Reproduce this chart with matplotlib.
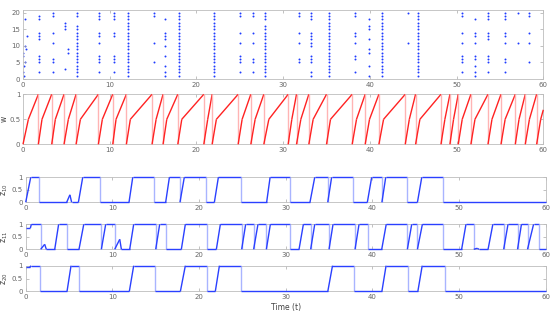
import numpy as np
import matplotlib
matplotlib.use("Agg")
import matplotlib.pyplot as plt
from matplotlib.collections import LineCollection

# ---- raster: spike columns (time, neuron ids) ----
ALL = list(range(1, 21))
col_t = [0.0, 0.04, 0.12, 0.19, 0.23, 0.35, 0.42,
         1.9, 3.42, 4.88, 5.15, 6.23, 8.81, 10.54, 12.08, 15.08, 16.38,
         18.04, 22.08, 25.04, 26.58, 27.96,
         31.81, 33.19, 35.23, 38.27, 39.88, 41.42, 44.42, 45.58,
         50.58, 52.12, 53.65, 55.58, 57.12, 58.38]
col_n = [[2, 7], [8], [1, 4], [5, 10], [18], [9], [13],
         [2, 5, 6, 7, 12, 13, 14, 18, 19],
         [2, 5, 6, 11, 14, 19, 20],
         [3, 15, 16, 17],
         [8, 9],
         list(range(1, 17)) + [19, 20],
         [2, 5, 6, 7, 11, 13, 14, 18, 19, 20],
         [2, 5, 6, 7, 13, 14, 18, 19, 20],
         ALL,
         [5, 11, 19, 20],
         [1, 2, 4, 7, 10, 12, 13, 14, 18],
         ALL,
         ALL,
         [2, 5, 6, 7, 11, 14, 19, 20],
         [2, 5, 6, 11, 14, 19, 20],
         list(range(1, 17)) + [18, 19, 20],
         [5, 6, 11, 14, 19, 20],
         [1, 2, 5, 6, 7, 10, 11, 12, 13, 14, 18, 19, 20],
         ALL,
         [2, 6, 7, 11, 13, 14, 19, 20],
         [1, 4, 8, 9, 12, 15, 16, 18],
         ALL,
         [11, 20],
         ALL,
         [2, 5, 6, 7, 11, 14, 19, 20],
         [1, 2, 4, 6, 7, 11, 13, 14, 18],
         [2, 5, 6, 7, 12, 13, 14, 18, 19, 20],
         [2, 5, 6, 11, 13, 14, 18, 19, 20],
         [11, 20],
         [5, 11, 14, 19, 20]]

# ---- w: reset times, knee times (w = 0.5), value at the end ----
w_reset = [0, 1.77, 3.31, 4.73, 6.12, 8.69, 10.35, 11.92, 14.88, 16.15, 17.85,
           20.85, 21.81, 24.81, 26.27, 27.77, 30.58, 31.54, 32.96, 35.0, 37.96,
           39.46, 41.04, 44.08, 45.27, 48.2, 49.23, 50.19, 51.65, 53.62, 55.12,
           56.77, 57.92, 59.23]
w_knee = [0.62, 2.19, 3.73, 5.23, 6.62, 9.15, 10.73, 12.38, 15.35, 16.58, 18.31,
          21.3, 22.3, 25.27, 26.77, 28.35, 31.0, 32.04, 33.46, 35.46, 38.46,
          39.96, 41.58, 44.55, 45.77, 48.65, 49.65, 50.65, 52.12, 54.08, 55.6,
          57.2, 58.4, 59.7]
w_end = 0.69

# ---- z traces (vertices) ----
z10_t = [0, 0.58, 1.58, 1.58, 4.73, 5.1, 5.3, 6.08, 6.58, 8.58, 8.58, 11.92,
         12.35, 14.85, 14.85, 16.15, 16.58, 17.8, 17.8, 18.3, 20.8, 20.8, 21.77,
         22.23, 24.8, 24.8, 27.8, 28.2, 30.46, 30.46, 32.8, 33.35, 34.85, 34.85,
         35.3, 37.8, 37.8, 39.42, 39.92, 41.1, 41.1, 41.54, 44.0, 44.0, 45.2,
         45.7, 48.2, 48.2, 60]
z10_v = [0, 1, 1, 0, 0, 0.3, 0, 0, 1, 1, 0, 0,
         1, 1, 0, 0, 1, 1, 0, 1, 1, 0, 0,
         1, 1, 0, 0, 1, 1, 0, 0, 1, 1, 0,
         1, 1, 0, 0, 1, 1, 0, 1, 1, 0, 0,
         1, 1, 0, 0]

z11_t = [0, 0.54, 0.65, 1.73, 1.73, 2.19, 2.38, 3.35, 3.8, 4.8, 4.8, 6.15, 6.7,
         8.73, 8.73, 9.23, 10.27, 10.27, 10.85, 11.04, 12.0, 12.46, 15.0, 15.0,
         15.46, 16.15, 16.15, 17.96, 18.42, 20.92, 20.92, 22.0, 22.46, 24.92,
         24.92, 25.38, 26.3, 26.3, 26.8, 27.77, 27.77, 28.23, 30.5, 30.5, 31.54,
         32.04, 32.88, 32.88, 33.35, 35.0, 35.0, 35.46, 38.0, 38.0, 38.46, 39.5,
         39.5, 41.08, 41.6, 44.04, 44.04, 44.54, 45.2, 45.2, 45.77, 48.2, 48.2,
         50.3, 50.8, 51.7, 51.7, 52.1, 52.3, 53.35, 53.9, 55.15, 55.15, 55.65,
         56.75, 56.75, 57.2, 57.9, 57.9, 58.6, 59.2, 59.2, 60]
z11_v = [0.85, 0.85, 1, 1, 0, 0.2, 0, 0, 1, 1, 0, 0, 1,
         1, 0, 1, 1, 0, 0.4, 0, 0, 1, 1, 0,
         1, 1, 0, 0, 1, 1, 0, 0, 1, 1,
         0, 1, 1, 0, 1, 1, 0, 1, 1, 0, 0,
         1, 1, 0, 1, 1, 0, 1, 1, 0, 1, 1,
         0, 0, 1, 1, 0, 1, 1, 0, 1, 1, 0,
         0, 1, 1, 0, 0.04, 0, 0, 1, 1, 0, 1,
         1, 0, 1, 1, 0, 1, 1, 0, 0]

z20_t = [0, 0.46, 0.6, 1.6, 1.6, 4.77, 5.23, 6.1, 6.1, 11.96, 12.46, 14.88,
         14.88, 17.85, 18.42, 20.92, 20.92, 21.88, 22.35, 24.85, 24.85, 34.86,
         35.4, 37.9, 37.9, 41.1, 41.58, 44.1, 44.1, 45.25, 45.75, 48.34, 48.34, 60]
z20_v = [0.93, 0.93, 1, 1, 0, 0, 1, 1, 0, 0, 1, 1,
         0, 0, 1, 1, 0, 0, 1, 1, 0, 0,
         1, 1, 0, 0, 1, 1, 0, 0, 1, 1, 0, 0]

xticks = [0, 10, 20, 30, 40, 50, 60]

TICK_C = "#a8a8a8"
LAB_C = "#666666"


def style(ax):
    for s in ax.spines.values():
        s.set_color("#bdbdbd")
        s.set_linewidth(0.6)
    ax.tick_params(direction="in", length=2.5, width=0.5, color=TICK_C,
                   labelcolor=LAB_C, labelsize=5, pad=2, top=True, right=True)
    ax.set_xlim(0, 60)
    ax.set_xticks(xticks)


def trace(ax, t, v, color, light, lw=1.0):
    t = np.asarray(t, float)
    v = np.asarray(v, float)
    pts = np.column_stack([t, v])
    segs = np.stack([pts[:-1], pts[1:]], axis=1)
    vertical = np.isclose(t[:-1], t[1:])
    cols = [light if vv else color for vv in vertical]
    lc = LineCollection(segs, colors=cols, linewidths=lw, clip_on=False,
                        capstyle="butt", zorder=3)
    ax.add_collection(lc)


W, H = 554, 313
fig = plt.figure(figsize=(W / 100, H / 100), dpi=100)


def rect(l, r, top, bot):
    return [l / W, 1 - bot / H, (r - l) / W, (bot - top) / H]


ax1 = fig.add_axes(rect(23, 543.3, 9.5, 79))
ax2 = fig.add_axes(rect(23, 543.3, 94.3, 144.3))
ax3 = fig.add_axes(rect(25.7, 545.7, 177.3, 202.3))
ax4 = fig.add_axes(rect(25.7, 545.7, 224.3, 249.3))
ax5 = fig.add_axes(rect(25.7, 545.7, 265.7, 291.3))

# raster
xs, ys = [], []
for t, ids in zip(col_t, col_n):
    xs += [t] * len(ids)
    ys += ids
ax1.scatter(xs, ys, s=2.0, c="#1f3cff", marker="o", linewidths=0)
style(ax1)
ax1.set_ylim(0, 21)
ax1.set_yticks([0, 5, 10, 15, 20])

# w
w_t, w_v = [], []
for i, (r, k) in enumerate(zip(w_reset, w_knee)):
    w_t += [r, k]
    w_v += [0, 0.5]
    if i + 1 < len(w_reset):
        w_t.append(w_reset[i + 1])
        w_v.append(1)
    else:
        w_t.append(60)
        w_v.append(w_end)
trace(ax2, w_t, w_v, "#ff2222", "#ffb4b4", lw=1.0)
style(ax2)
ax2.set_ylim(0, 1)
ax2.set_yticks([0, 0.5, 1])
ax2.set_yticklabels(["0", "0.5", "1"])
ax2.set_ylabel("w", fontsize=5.5, color="#444444")
ax2.yaxis.set_label_coords(-0.028, 0.5)

for ax, t, v, name in [(ax3, z10_t, z10_v, "10"), (ax4, z11_t, z11_v, "11"),
                       (ax5, z20_t, z20_v, "20")]:
    trace(ax, t, v, "#2a40ff", "#a9b4ff", lw=1.0)
    style(ax)
    ax.set_ylim(0, 1)
    ax.set_yticks([0, 0.5, 1])
    ax.set_yticklabels(["0", "0.5", "1"])
    ax.set_ylabel(r"$\mathregular{z_{%s}}$" % name, fontsize=5.5, color="#444444")
    ax.yaxis.set_label_coords(-0.031, 0.5)

ax5.set_xlabel("Time (t)", fontsize=5.5, color="#444444", labelpad=2)

fig.savefig("out.png", dpi=100)
